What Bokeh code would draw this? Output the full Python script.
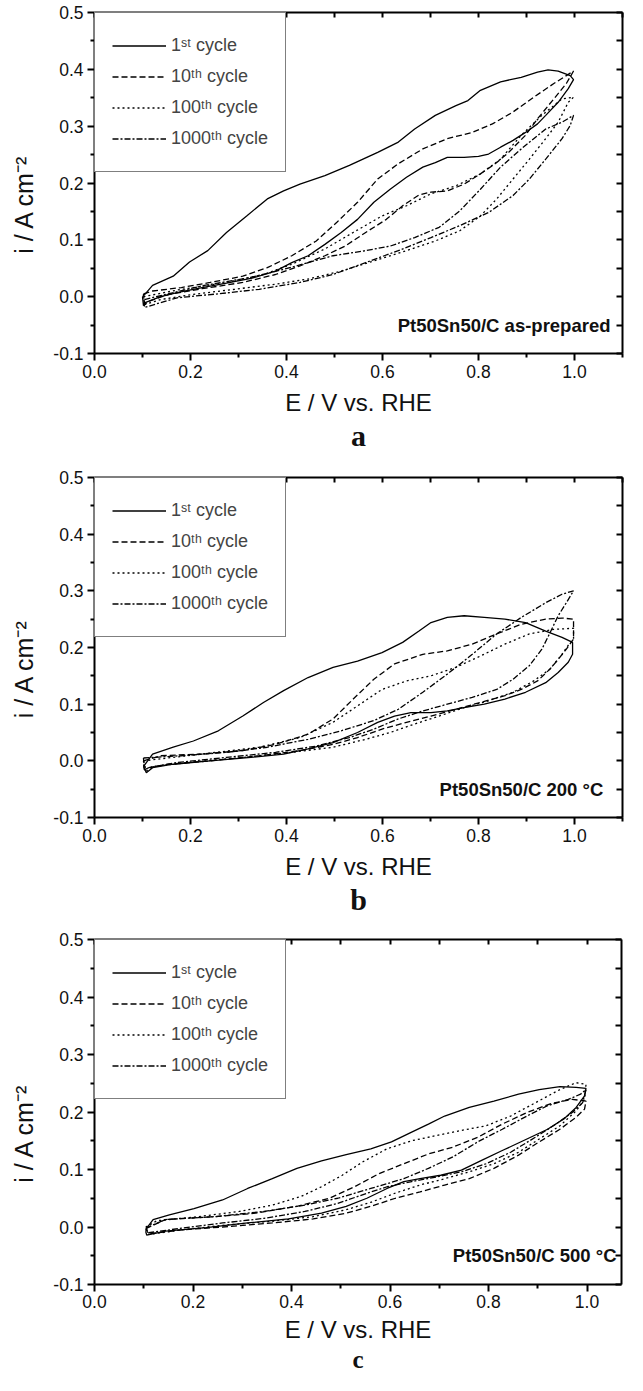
from bokeh.plotting import figure
from bokeh.models import (Range1d, LinearAxis, FixedTicker, PrintfTickFormatter,
                          Legend, LegendItem, Label, Title)
from bokeh.layouts import column
from bokeh.embed import file_html
from bokeh.resources import INLINE

# ---------------- data ----------------
CYCLE_LABELS = ["1ˢᵗ cycle", "10ᵗʰ cycle", "100ᵗʰ cycle", "1000ᵗʰ cycle"]
PANEL_TAGS = ["Pt50Sn50/C as-prepared", "Pt50Sn50/C 200 °C", "Pt50Sn50/C 500 °C"]
PANEL_LETTERS = ["a", "b", "c"]
X_LABEL = "E / V vs. RHE"
Y_LABEL = "i / A cm⁻²"
X_TICKS = [0.0, 0.2, 0.4, 0.6, 0.8, 1.0]
X_MINOR = [0.1, 0.3, 0.5, 0.7, 0.9, 1.1]
Y_TICKS = [-0.1, 0.0, 0.1, 0.2, 0.3, 0.4, 0.5]
Y_MINOR = [-0.05, 0.05, 0.15, 0.25, 0.35, 0.45]

# panel a : as-prepared
A_1ST_E = [0.100, 0.108, 0.121, 0.164, 0.198, 0.236, 0.275, 0.317, 0.360, 0.394, 0.428, 0.480, 0.531, 0.590, 0.633,
           0.667, 0.710, 0.753, 0.778, 0.804, 0.846, 0.889, 0.923, 0.945, 0.966, 0.991, 0.998,
           0.987, 0.966, 0.940, 0.923, 0.898, 0.872, 0.846, 0.821, 0.800, 0.770, 0.735, 0.710, 0.684, 0.650, 0.616,
           0.582, 0.548, 0.514, 0.480, 0.445, 0.411, 0.377, 0.326, 0.275, 0.224, 0.172, 0.138, 0.104, 0.102, 0.100]
A_1ST_I = [0.000, 0.007, 0.020, 0.036, 0.061, 0.081, 0.113, 0.142, 0.172, 0.186, 0.198, 0.213, 0.231, 0.254, 0.272,
           0.295, 0.319, 0.336, 0.345, 0.363, 0.378, 0.386, 0.395, 0.399, 0.397, 0.389, 0.382,
           0.366, 0.342, 0.319, 0.304, 0.289, 0.275, 0.263, 0.251, 0.247, 0.245, 0.245, 0.236, 0.228, 0.210, 0.189,
           0.166, 0.136, 0.113, 0.092, 0.072, 0.060, 0.045, 0.032, 0.024, 0.016, 0.007, 0.000, -0.011, -0.016, 0.000]
A_10TH_E = [0.102, 0.121, 0.181, 0.241, 0.309, 0.360, 0.411, 0.462, 0.505, 0.548, 0.590, 0.633, 0.684, 0.735, 0.787,
            0.829, 0.872, 0.915, 0.957, 0.998,
            0.983, 0.957, 0.923, 0.898, 0.863, 0.838, 0.804, 0.770, 0.735, 0.701, 0.676, 0.642, 0.608, 0.565, 0.522,
            0.480, 0.428, 0.377, 0.309, 0.224, 0.155, 0.113, 0.104, 0.102]
A_10TH_I = [0.005, 0.010, 0.016, 0.025, 0.036, 0.051, 0.072, 0.098, 0.131, 0.166, 0.207, 0.234, 0.260, 0.278, 0.289,
            0.304, 0.325, 0.351, 0.375, 0.397,
            0.375, 0.348, 0.313, 0.284, 0.254, 0.236, 0.216, 0.198, 0.186, 0.184, 0.179, 0.160, 0.136, 0.113, 0.089,
            0.072, 0.054, 0.039, 0.025, 0.014, 0.004, -0.008, -0.014, 0.005]
A_100TH_E = [0.102, 0.181, 0.275, 0.352, 0.411, 0.480, 0.539, 0.599, 0.650, 0.701, 0.753, 0.804, 0.846, 0.889, 0.932,
             0.974, 0.998,
             0.987, 0.966, 0.940, 0.906, 0.872, 0.838, 0.804, 0.761, 0.710, 0.650, 0.582, 0.514, 0.445, 0.377, 0.292,
             0.206, 0.138, 0.104, 0.102]
A_100TH_I = [0.000, 0.013, 0.025, 0.039, 0.057, 0.084, 0.113, 0.142, 0.160, 0.181, 0.195, 0.216, 0.242, 0.284, 0.319,
             0.348, 0.351,
             0.342, 0.307, 0.278, 0.242, 0.207, 0.172, 0.142, 0.116, 0.098, 0.081, 0.063, 0.045, 0.031, 0.022, 0.013,
             0.004, -0.005, -0.014, 0.000]
A_1000TH_E = [0.104, 0.224, 0.326, 0.394, 0.445, 0.497, 0.565, 0.616, 0.667, 0.718, 0.761, 0.804, 0.846, 0.889, 0.940,
              0.974, 0.998,
              0.991, 0.974, 0.940, 0.906, 0.872, 0.821, 0.761, 0.701, 0.633, 0.565, 0.497, 0.428, 0.343, 0.258, 0.172,
              0.104, 0.104]
A_1000TH_I = [-0.005, 0.019, 0.034, 0.048, 0.060, 0.072, 0.081, 0.089, 0.104, 0.122, 0.151, 0.189, 0.228, 0.260, 0.295,
              0.307, 0.319,
              0.301, 0.278, 0.242, 0.207, 0.178, 0.148, 0.125, 0.104, 0.081, 0.060, 0.039, 0.025, 0.013, 0.005, -0.002,
              -0.019, -0.005]

# panel b : 200 C
B_1ST_E = [0.102, 0.108, 0.121, 0.164, 0.206, 0.258, 0.309, 0.352, 0.394, 0.445, 0.497, 0.548, 0.599, 0.642, 0.676,
           0.701, 0.735, 0.770, 0.812, 0.855, 0.898, 0.940, 0.974, 0.996,
           0.996, 0.987, 0.966, 0.940, 0.898, 0.855, 0.812, 0.770, 0.735, 0.701, 0.659, 0.625, 0.590, 0.548, 0.497,
           0.445, 0.394, 0.326, 0.241, 0.164, 0.121, 0.108, 0.102]
B_1ST_I = [-0.010, -0.003, 0.012, 0.024, 0.035, 0.053, 0.079, 0.103, 0.124, 0.147, 0.165, 0.176, 0.191, 0.209, 0.229,
           0.244, 0.253, 0.256, 0.253, 0.250, 0.244, 0.229, 0.218, 0.209,
           0.188, 0.174, 0.156, 0.138, 0.121, 0.109, 0.100, 0.094, 0.088, 0.085, 0.085, 0.079, 0.068, 0.050, 0.032,
           0.021, 0.012, 0.006, 0.000, -0.006, -0.012, -0.021, -0.010]
B_10TH_E = [0.102, 0.138, 0.224, 0.309, 0.377, 0.445, 0.497, 0.539, 0.582, 0.625, 0.684, 0.735, 0.787, 0.838, 0.889,
            0.940, 0.974, 0.998,
            0.998, 0.983, 0.966, 0.949, 0.923, 0.889, 0.855, 0.804, 0.753, 0.701, 0.650, 0.599, 0.548, 0.497, 0.428,
            0.343, 0.241, 0.155, 0.113, 0.104, 0.102]
B_10TH_I = [0.000, 0.009, 0.012, 0.018, 0.029, 0.047, 0.074, 0.109, 0.144, 0.171, 0.188, 0.194, 0.206, 0.224, 0.241,
            0.250, 0.252, 0.250,
            0.215, 0.197, 0.179, 0.162, 0.141, 0.126, 0.115, 0.103, 0.091, 0.079, 0.068, 0.056, 0.041, 0.029, 0.018,
            0.009, 0.000, -0.006, -0.012, -0.015, 0.000]
B_100TH_E = [0.102, 0.224, 0.343, 0.428, 0.497, 0.548, 0.599, 0.650, 0.701, 0.753, 0.804, 0.855, 0.906, 0.957, 0.998,
             0.998, 0.991, 0.974, 0.949, 0.915, 0.872, 0.821, 0.770, 0.718, 0.667, 0.616, 0.565, 0.497, 0.411, 0.309,
             0.206, 0.121, 0.108, 0.102]
B_100TH_I = [0.000, 0.012, 0.024, 0.041, 0.068, 0.097, 0.126, 0.141, 0.150, 0.165, 0.185, 0.206, 0.224, 0.232, 0.234,
             0.215, 0.209, 0.188, 0.162, 0.141, 0.121, 0.106, 0.094, 0.079, 0.065, 0.050, 0.038, 0.024, 0.015, 0.006,
             -0.002, -0.010, -0.018, 0.000]
B_1000TH_E = [0.102, 0.181, 0.275, 0.360, 0.445, 0.514, 0.582, 0.633, 0.684, 0.735, 0.787, 0.838, 0.889, 0.940, 0.974,
              0.998,
              0.983, 0.966, 0.949, 0.932, 0.906, 0.872, 0.838, 0.787, 0.735, 0.684, 0.633, 0.582, 0.531, 0.462, 0.377,
              0.275, 0.172, 0.113, 0.104, 0.102]
B_1000TH_I = [0.005, 0.009, 0.015, 0.024, 0.038, 0.053, 0.071, 0.091, 0.121, 0.153, 0.188, 0.224, 0.253, 0.279, 0.294,
              0.300,
              0.279, 0.256, 0.226, 0.197, 0.168, 0.144, 0.126, 0.112, 0.100, 0.088, 0.074, 0.056, 0.041, 0.026, 0.015,
              0.006, -0.003, -0.012, -0.016, 0.005]

# panel c : 500 C
C_1ST_E = [0.104, 0.106, 0.119, 0.152, 0.202, 0.260, 0.311, 0.361, 0.411, 0.461, 0.511, 0.561, 0.603, 0.644, 0.678,
           0.711, 0.761, 0.811, 0.861, 0.903, 0.945, 0.978, 0.998,
           0.995, 0.978, 0.953, 0.920, 0.878, 0.828, 0.786, 0.745, 0.703, 0.661, 0.628, 0.594, 0.553, 0.511, 0.461,
           0.394, 0.311, 0.227, 0.144, 0.106, 0.104]
C_1ST_I = [-0.008, -0.002, 0.013, 0.021, 0.032, 0.047, 0.067, 0.084, 0.102, 0.115, 0.126, 0.136, 0.148, 0.165, 0.179,
           0.193, 0.208, 0.219, 0.231, 0.239, 0.244, 0.243, 0.241,
           0.228, 0.208, 0.188, 0.170, 0.153, 0.133, 0.116, 0.099, 0.090, 0.084, 0.079, 0.067, 0.050, 0.036, 0.024,
           0.014, 0.007, -0.001, -0.007, -0.014, -0.008]
C_10TH_E = [0.104, 0.144, 0.244, 0.327, 0.411, 0.477, 0.528, 0.578, 0.628, 0.678, 0.728, 0.778, 0.828, 0.878, 0.928,
            0.970, 0.998,
            0.995, 0.978, 0.945, 0.903, 0.861, 0.811, 0.761, 0.711, 0.661, 0.611, 0.561, 0.511, 0.444, 0.361, 0.260,
            0.177, 0.110, 0.104]
C_10TH_I = [-0.003, 0.013, 0.018, 0.024, 0.036, 0.050, 0.070, 0.093, 0.110, 0.127, 0.139, 0.156, 0.179, 0.199, 0.215,
            0.222, 0.219,
            0.205, 0.191, 0.170, 0.148, 0.125, 0.102, 0.084, 0.073, 0.061, 0.050, 0.036, 0.024, 0.014, 0.007, 0.000,
            -0.005, -0.012, -0.003]
C_100TH_E = [0.104, 0.127, 0.210, 0.294, 0.361, 0.419, 0.461, 0.503, 0.544, 0.594, 0.644, 0.694, 0.745, 0.795, 0.845,
             0.895, 0.945, 0.978, 0.998,
             0.995, 0.978, 0.945, 0.903, 0.861, 0.811, 0.761, 0.711, 0.661, 0.611, 0.561, 0.511, 0.444, 0.361, 0.260,
             0.177, 0.110, 0.104]
C_100TH_I = [0.000, 0.011, 0.018, 0.027, 0.038, 0.053, 0.070, 0.090, 0.113, 0.136, 0.150, 0.159, 0.168, 0.176, 0.193,
             0.216, 0.239, 0.251, 0.248,
             0.222, 0.202, 0.176, 0.153, 0.130, 0.110, 0.096, 0.084, 0.073, 0.059, 0.043, 0.030, 0.018, 0.010, 0.003,
             -0.005, -0.013, 0.000]
C_1000TH_E = [0.104, 0.144, 0.244, 0.344, 0.427, 0.494, 0.561, 0.628, 0.678, 0.728, 0.778, 0.828, 0.878, 0.920, 0.962,
              0.987, 0.998,
              0.991, 0.970, 0.937, 0.895, 0.845, 0.795, 0.745, 0.694, 0.644, 0.594, 0.544, 0.494, 0.427, 0.344, 0.260,
              0.177, 0.110, 0.104]
C_1000TH_I = [-0.002, 0.013, 0.018, 0.027, 0.038, 0.050, 0.067, 0.084, 0.102, 0.122, 0.148, 0.170, 0.193, 0.211, 0.222,
              0.231, 0.239,
              0.216, 0.199, 0.179, 0.156, 0.130, 0.110, 0.096, 0.087, 0.079, 0.070, 0.056, 0.041, 0.027, 0.015, 0.007,
              -0.002, -0.010, -0.002]

PANEL_DATA = [
    [(A_1ST_E, A_1ST_I), (A_10TH_E, A_10TH_I), (A_100TH_E, A_100TH_I), (A_1000TH_E, A_1000TH_I)],
    [(B_1ST_E, B_1ST_I), (B_10TH_E, B_10TH_I), (B_100TH_E, B_100TH_I), (B_1000TH_E, B_1000TH_I)],
    [(C_1ST_E, C_1ST_I), (C_10TH_E, C_10TH_I), (C_100TH_E, C_100TH_I), (C_1000TH_E, C_1000TH_I)],
]

# ---------------- styles / layout ----------------
DASHES = ["solid", "6 3", "2 3", "6 2 2 2"]
SANS = "Liberation Sans"
SERIF = "Liberation Serif"
Y_LABEL_PAD = "\u00a0" * 6   # shifts the centred y label slightly downwards, as in the original

# canvas heights: a 12+341+112=465, b 12+340+111=463, c 11+345+91=447  -> 1375
LAYOUT = [
    dict(ml=90, fw=528, fh=341, mt=12, mb=112, xend=1.1, tagx=1.075, tick_so=4, lab_so=8, letter_fs="30px"),
    dict(ml=90, fw=528, fh=340, mt=12, mb=111, xend=1.1, tagx=1.06, tick_so=4, lab_so=8, letter_fs="30px"),
    dict(ml=94, fw=527, fh=345, mt=11, mb=91, xend=527 / 492.5, tagx=1.06, tick_so=3, lab_so=5, letter_fs="25px"),
]


def style_axis(ax):
    ax.axis_line_width = 2
    ax.axis_line_color = "black"
    ax.major_tick_line_width = 2
    ax.minor_tick_line_width = 2
    ax.major_tick_line_color = "black"
    ax.minor_tick_line_color = "black"


def make_panel(k):
    L = LAYOUT[k]
    p = figure(frame_width=L["fw"], frame_height=L["fh"],
               x_range=Range1d(0, L["xend"]), y_range=Range1d(-0.1, 0.5),
               output_backend="svg", toolbar_location=None, title=None,
               min_border_left=L["ml"], min_border_right=6,
               min_border_top=L["mt"], min_border_bottom=L["mb"])
    p.xgrid.visible = False
    p.ygrid.visible = False
    p.outline_line_color = None
    p.background_fill_color = "white"
    p.border_fill_color = "white"

    fmt = PrintfTickFormatter(format="%.1f")

    for ax, ticks, minor, label, lsize, lstand, tso in (
            (p.xaxis[0], X_TICKS, X_MINOR, X_LABEL, "24px", L["lab_so"], L["tick_so"]),
            (p.yaxis[0], Y_TICKS, Y_MINOR, Y_LABEL + Y_LABEL_PAD, "25px", 12, 4)):
        ax.ticker = FixedTicker(ticks=ticks, minor_ticks=minor)
        ax.formatter = fmt
        style_axis(ax)
        ax.major_tick_out, ax.major_tick_in = 7, 0
        ax.minor_tick_out, ax.minor_tick_in = 4, 0
        ax.major_label_text_font = SANS
        ax.major_label_text_font_size = "17.5px"
        ax.major_label_text_color = "#111111"
        ax.major_label_standoff = tso
        ax.axis_label = label
        ax.axis_label_text_font = SANS
        ax.axis_label_text_font_size = lsize
        ax.axis_label_text_font_style = "normal"
        ax.axis_label_text_color = "#111111"
        ax.axis_label_standoff = lstand

    # mirrored top / right axes: inward ticks only, no labels
    top = LinearAxis(ticker=FixedTicker(ticks=[], minor_ticks=X_TICKS + X_MINOR))
    style_axis(top)
    top.minor_tick_in, top.minor_tick_out = 5, 0
    p.add_layout(top, "above")
    right = LinearAxis(ticker=FixedTicker(ticks=[], minor_ticks=Y_TICKS + Y_MINOR))
    style_axis(right)
    right.minor_tick_in, right.minor_tick_out = 6, 0
    p.add_layout(right, "right")

    items = []
    for (E, I), dash, lab in zip(PANEL_DATA[k], DASHES, CYCLE_LABELS):
        r = p.line(E, I, line_color="black", line_width=1.3, line_dash=dash)
        items.append(LegendItem(label=lab, renderers=[r]))

    leg = Legend(items=items, location="top_left", margin=0, padding=17, spacing=0,
                 glyph_width=54, glyph_height=31, label_height=31, label_standoff=5,
                 label_text_font=SANS, label_text_font_size="18px",
                 label_text_baseline="middle", border_line_color="black",
                 border_line_width=1.5, background_fill_color="white", background_fill_alpha=1.0)
    p.add_layout(leg)

    p.add_layout(Label(x=L["tagx"], y=-0.05, text=PANEL_TAGS[k], text_align="right",
                       text_baseline="middle", text_font=SANS, text_font_style="bold",
                       text_font_size="18.5px", text_color="#111111"))

    letter = Title(text=PANEL_LETTERS[k], align="center", vertical_align="top",
                   standoff=0, text_font=SERIF, text_font_style="bold",
                   text_font_size=L["letter_fs"], text_color="#111111")
    p.add_layout(letter, "below")
    return p


panels = [make_panel(k) for k in range(3)]
layout = column(*panels, spacing=0)
open("out.html", "w").write(file_html(layout, INLINE))
